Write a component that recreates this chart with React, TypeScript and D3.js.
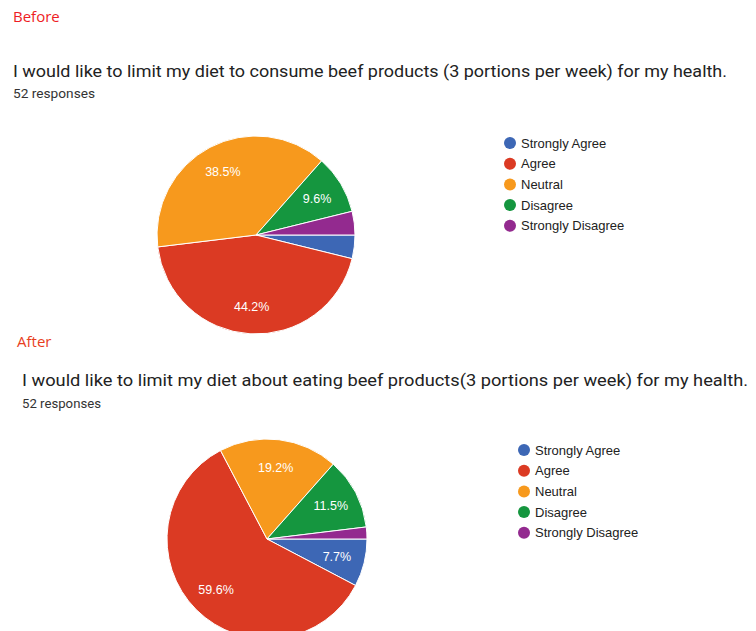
import React from "react";
import * as d3 from "d3";

const categories = ["Strongly Agree", "Agree", "Neutral", "Disagree", "Strongly Disagree"];
const beforeCounts = [2, 23, 20, 5, 2];
const afterCounts = [4, 31, 10, 6, 1];
const colors = ["#3d67b5", "#db3a23", "#f7991d", "#15963f", "#932a8f"];
const beforeTitle = "I would like to limit my diet to consume beef products (3 portions per week) for my health.";
const afterTitle = "I would like to limit my diet about eating beef products(3 portions per week) for my health.";
const responsesLabel = "52 responses";

type PanelProps = {
  counts: number[];
  cx: number;
  cy: number;
  r: number;
  legendX: number;
  legendY: number;
};

function Pie({ counts, cx, cy, r, legendX, legendY }: PanelProps) {
  const total = d3.sum(counts);
  const pie = d3
    .pie<number>()
    .sort(null)
    .startAngle(Math.PI / 2)
    .endAngle(Math.PI / 2 + 2 * Math.PI);
  const arcs = pie(counts);
  const arc = d3.arc<d3.PieArcDatum<number>>().innerRadius(0).outerRadius(r);
  const labelArc = d3.arc<d3.PieArcDatum<number>>().innerRadius(r * 0.72).outerRadius(r * 0.72);
  const legendStep = 20.7;
  return (
    <g>
      <g transform={`translate(${cx},${cy})`}>
        {arcs.map((a, i) => (
          <path key={i} d={arc(a) || ""} fill={colors[i]} stroke="#fff" strokeWidth={1} />
        ))}
        {arcs.map((a, i) => {
          const pct = (a.data / total) * 100;
          if (pct < 5) return null;
          const [x, y] = labelArc.centroid(a);
          return (
            <text
              key={"l" + i}
              x={x}
              y={y}
              dy="0.35em"
              textAnchor="middle"
              fill="#fff"
              fontSize={12.5}
              fontFamily="Liberation Sans, Arial, sans-serif"
            >
              {pct.toFixed(1)}%
            </text>
          );
        })}
      </g>
      {categories.map((c, i) => (
        <g key={c} transform={`translate(${legendX},${legendY + i * legendStep})`}>
          <circle cx={0} cy={0} r={6} fill={colors[i]} />
          <text
            x={11}
            y={0}
            dy="0.35em"
            fontSize={13}
            fill="#222"
            fontFamily="Liberation Sans, Arial, sans-serif"
          >
            {c}
          </text>
        </g>
      ))}
    </g>
  );
}

export default function App() {
  React.useEffect(() => {
    document.body.style.margin = "0";
  }, []);
  return (
    <svg
      width={756}
      height={631}
      style={{ position: "absolute", left: 0, top: 0, background: "#fff" }}
    >
      <rect width={756} height={631} fill="#fff" />
      <text x={13} y={22} fill="#ee1c24" fontSize={15} fontFamily="Open Sans, sans-serif">
        Before
      </text>
      <text
        x={13}
        y={77}
        fill="#222"
        fontSize={16}
        fontFamily="Roboto, sans-serif"
        textLength={714}
        lengthAdjust="spacingAndGlyphs"
      >
        {beforeTitle}
      </text>
      <text x={13} y={98} fill="#333" fontSize={12} fontFamily="Roboto, sans-serif" textLength={82} lengthAdjust="spacingAndGlyphs">
        {responsesLabel}
      </text>
      <Pie counts={beforeCounts} cx={256} cy={235} r={99} legendX={510} legendY={143} />

      <text x={17} y={347} fill="#e8401e" fontSize={15} fontFamily="Open Sans, sans-serif">
        After
      </text>
      <text
        x={22}
        y={386}
        fill="#222"
        fontSize={16}
        fontFamily="Roboto, sans-serif"
        textLength={726}
        lengthAdjust="spacingAndGlyphs"
      >
        {afterTitle}
      </text>
      <text x={22} y={408} fill="#333" fontSize={12} fontFamily="Roboto, sans-serif" textLength={79} lengthAdjust="spacingAndGlyphs">
        {responsesLabel}
      </text>
      <Pie counts={afterCounts} cx={267} cy={539} r={100} legendX={524} legendY={450} />
    </svg>
  );
}
